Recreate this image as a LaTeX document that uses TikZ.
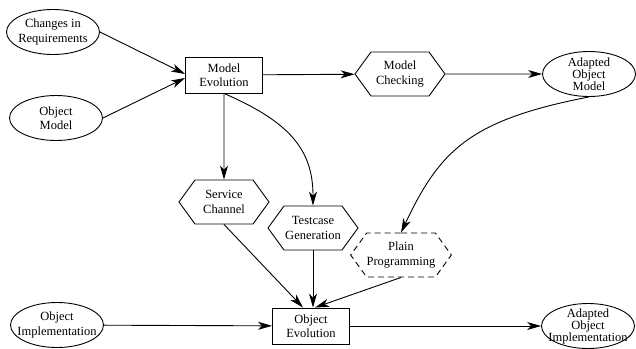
\documentclass[tikz,border=0pt]{standalone}
\usepackage{fontspec}
\setmainfont{Liberation Serif}
\usetikzlibrary{arrows.meta,shapes.geometric,shapes.symbols}

\begin{document}
\begin{tikzpicture}[x=1pt,y=-1pt,line width=0.9pt,
    >={Stealth[length=14pt,width=8pt,inset=4pt]},
    every node/.style={font=\fontsize{12.5}{14.5}\selectfont,align=center},
    oval/.style={draw,ellipse,inner sep=-8pt,minimum width=93pt,minimum height=45pt},
    box/.style={draw,rectangle,inner sep=0pt,minimum width=77pt,minimum height=36pt},
    hexa/.style={draw,signal,signal to=east and west,signal pointer angle=108,
      inner sep=0pt,minimum width=90pt,minimum height=44pt},
    tight/.style={font=\fontsize{12.5}{12}\selectfont}]
  \useasboundingbox (0,0) rectangle (636,348);

  % входы
  \node[oval] (req) at (53,32) {Changes in\\Requirements};
  \node[oval] (om) at (56,118) {Object\\Model};
  \node[oval] (oimpl) at (57,325) {Object\\Implementation};

  % модель
  \node[box] (mevo) at (224,75) {Model\\Evolution};
  \node[hexa] (mchk) at (400,74) {Model\\Checking};
  \node[oval,tight] (aom) at (589,74) {Adapted\\Object\\Model};

  % промежуточные шаги
  \node[hexa] (svc) at (224,202) {Service\\Channel};
  \node[hexa] (tcg) at (313,228) {Testcase\\Generation};
  \node[hexa,dash pattern=on 6pt off 4pt] (ppg) at (401,255) {Plain\\Programming};

  % объект
  \node[box] (oevo) at (311,326) {Object\\Evolution};
  \node[oval,tight] (aoi) at (588,326) {Adapted\\Object\\Implementation};

  % стрелки
  \draw[->] (req.east) -- ([yshift=1pt]mevo.west);
  \draw[->] (om.east) -- ([yshift=-3pt]mevo.west);
  \draw[->] (mevo) -- (mchk);
  \draw[->] (mchk) -- (aom);
  \draw[->] (mevo) -- (svc);
  \draw[->] (mevo.south) .. controls (290,122) and (313,150) .. (tcg.north);
  \draw[->] (aom.south) .. controls (470,120) and (440,150) .. (ppg.north);
  \draw[->] (svc.south) -- ([xshift=-8pt]oevo.north);
  \draw[->] (tcg.south) -- (tcg.south |- oevo.north);
  \draw[->] (ppg.south) -- ([xshift=4pt]oevo.north);
  \draw[->] (oimpl) -- (oevo);
  \draw[->] (oevo) -- (aoi);
\end{tikzpicture}
\end{document}
